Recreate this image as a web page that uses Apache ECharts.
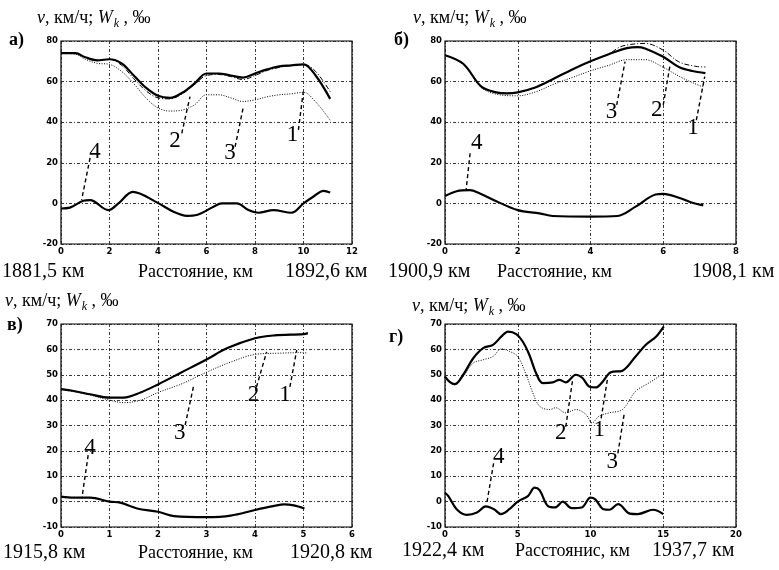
<!DOCTYPE html>
<html><head><meta charset="utf-8">
<script src="https://cdn.jsdelivr.net/npm/echarts@6/dist/echarts.min.js"></script>
<style>html,body{margin:0;padding:0;background:#fff}#c{width:779px;height:570px}</style>
</head><body><div id="c"></div>
<script>
// ---------- DATA ----------
// Panel а) 1881,5 – 1892,6 км
const a1 = [[0,74],[0.6,74],[1,72],[1.5,70.5],[2,71],[2.5,68],[3,61.5],[3.5,55.5],[4,52],[4.5,51.5],[5,54],[5.5,58.5],[6,63],[6.5,63.5],[7,62.5],[7.5,61],[8,63],[8.5,65.5],[9,67],[9.5,68],[10,68.5],[10.5,65],[11.1,55]];
const a2 = [[0,74],[0.6,74],[1,72],[1.5,70.5],[2,71],[2.5,69],[3,63],[3.5,57],[4,53],[4.5,52],[5,54.5],[5.5,59],[6,64],[6.5,64],[7,63],[7.5,62],[8,64],[8.5,66],[9,67.5],[9.5,68],[10,68.5],[10.5,63],[11.1,51.5]];
const a3 = [[0,74],[0.6,73.5],[1,71],[1.5,69],[2,68.5],[2.5,65],[3,59],[3.5,52],[4,47],[4.5,45.5],[5,46],[5.5,48.5],[6,53.5],[6.5,53.5],[7,52],[7.5,50.2],[8,51],[8.5,52.5],[9,53.5],[9.5,54],[10,54.7],[10.5,50],[11.1,41]];
const a4 = [[0,-2.5],[0.37,-2.1],[0.92,1.3],[1.2,1.6],[1.95,-3.3],[2.37,0],[2.96,5.7],[3.95,0.5],[4.64,-4.1],[5.19,-6.1],[5.6,-5.7],[6.29,-1.6],[6.63,0],[7.25,0],[7.73,-3.3],[8.14,-4.6],[8.76,-3.3],[9.5,-4.6],[10,0],[10.4,3.3],[10.83,6.2],[11.1,5.4]];
// Panel б) 1900,9 – 1908,1 км
const b1 = [[0,73],[0.5,68.8],[1,57.5],[1.41,54.7],[1.7,54.2],[2,54.7],[2.5,57.2],[3,61.5],[3.5,66],[4,70],[4.5,73.5],[4.8,77],[5.1,78.3],[5.5,78.8],[6,75.5],[6.43,69.7],[6.9,67.5],[7.16,67.2]];
const b2 = [[0,73],[0.5,68.8],[1,57.5],[1.41,54.7],[1.7,54.2],[2,54.7],[2.5,57.2],[3,61.5],[3.5,66],[4,70],[4.5,73.5],[5,76.5],[5.3,77],[5.5,76.3],[6,72.2],[6.43,67.2],[6.8,65.2],[7.16,64.2]];
const b3 = [[0,73],[0.5,68.5],[1,57],[1.5,53.5],[2,53],[2.5,55],[3,58.8],[3.5,62],[4,65.3],[4.5,68],[5,70.8],[5.5,70.8],[6,67],[6.5,62],[7,58],[7.1,57.5]];
const b4 = [[0,3.6],[0.32,6],[0.68,6.5],[0.96,4.9],[1.41,1.1],[2,-3.3],[2.6,-4.9],[2.96,-6.2],[4,-6.5],[4.74,-6.2],[5.24,-1.6],[5.79,4.4],[6,4.7],[6.43,2.8],[6.8,0.3],[7.1,-1]];
// Panel в) 1915,8 – 1920,8 км
const c1 = [[0,44.3],[0.26,43.6],[0.6,42.3],[1,41],[1.29,41],[1.64,43],[2,46.2],[2.47,50.8],[3,56],[3.43,60.5],[4,64.4],[4.4,65.5],[5,66],[5.09,66.4]];
const c2 = [[0,44.3],[0.26,43.6],[0.6,42.3],[1,41],[1.29,41],[1.64,43],[2,46.2],[2.47,50.8],[3,56],[3.43,60.5],[4,64.4],[4.4,65.5],[5,66],[5.09,66.4]];
const c3 = [[0,44.3],[0.6,42],[1,40],[1.3,39],[1.64,40],[2,43],[2.5,46.5],[3,51],[3.5,55],[4,58],[4.5,58.5],[5,58.7],[5.09,58.5]];
const c4 = [[0,2],[0.26,1.6],[0.6,1.6],[1,0],[1.22,-0.4],[1.57,-2.7],[2,-4],[2.33,-5.7],[3,-6.1],[3.5,-5.5],[4,-3.3],[4.4,-1.7],[4.6,-1.1],[4.8,-1.5],[5.02,-2.7]];
// Panel г) 1922,4 – 1937,7 км
const d1 = [[0,49.3],[0.34,47.1],[0.68,46.3],[1.25,50],[1.94,56.5],[2.62,60.5],[3.3,61.8],[3.87,65],[4.33,67],[4.9,66],[5.35,63],[5.8,57.8],[6.26,50.6],[6.72,46.7],[7.4,47],[7.86,48],[8.3,47],[9,50],[9.45,48.7],[9.9,45.4],[10.36,45],[10.8,47],[11.4,51],[12.2,51.6],[13.1,57.2],[13.8,61.8],[14.5,65],[15.03,69]];
const d2 = [[0,49.3],[0.34,47.1],[0.68,46.3],[1.25,50],[1.94,56.5],[2.62,60.5],[3.3,61.8],[3.87,65],[4.33,67],[4.9,66],[5.35,63],[5.8,57.8],[6.26,50.6],[6.72,46.7],[7.4,47],[7.86,48],[8.3,47],[9,50],[9.45,48.7],[9.9,45.4],[10.36,45],[10.8,47],[11.4,51],[12.2,51.6],[13.1,57.2],[13.8,61.8],[14.5,65],[15.03,69]];
const d3 = [[0,49.3],[0.68,46],[1.25,49.3],[1.94,54.6],[2.62,55.9],[3.3,57.2],[3.87,60.2],[4.44,59.2],[5,57.2],[5.58,50],[6.04,42.8],[6.5,37.6],[7.2,36.3],[7.6,37],[8.3,35],[9,36.3],[9.7,34.3],[10.1,31],[10.6,33.7],[11.3,35],[12.2,36.3],[13.1,43.5],[14,46.7],[14.9,50],[15.03,50.2]];
const d4 = [[0,3.5],[0.23,2.2],[0.8,-3],[1.5,-5.2],[2.2,-4.3],[2.8,-1.9],[3.37,-3],[3.84,-4.9],[4.42,-3],[5,0],[5.7,2.2],[6.16,5.5],[6.5,4.5],[7.1,-1.9],[7.56,-2.3],[8.1,0],[8.7,-2.6],[9.4,-2.3],[10,1.6],[10.33,0.9],[10.9,-3],[11.3,-3.2],[11.9,-1],[12.7,-4.7],[13.25,-4.9],[14.3,-3.2],[15,-4.9]];

// Axis ranges / ticks
const xMax = [12, 8, 6, 20];
const xStep = [2, 2, 1, 5];
const yMin = [-20, -20, -10, -10];
const yMax = [80, 80, 70, 70];
const yStep = [20, 20, 10, 10];

// Annotation numbers [panel, label, x, y] and leader lines [panel, x1, y1, x2, y2]
const numLabels = [
  [0,'4',1.4,25.3],[0,'2',4.7,31],[0,'3',6.97,24.8],[0,'1',9.55,33.5],
  [1,'4',0.87,29.6],[1,'3',4.58,45.2],[1,'2',5.82,46],[1,'1',6.82,37],
  [2,'4',0.6,21],[2,'3',2.45,26.9],[2,'2',3.97,42],[2,'1',4.62,42],
  [3,'4',3.69,17.7],[3,'2',7.96,26.9],[3,'1',10.6,28.2],[3,'3',11.5,15.7]
];
const leaders = [
  [0,1.2,22.4,0.85,1.7],[0,4.98,34.5,5.32,52.6],[0,7.18,27.9,7.52,47.6],[0,9.79,36.2,9.99,55],
  [1,0.69,24.7,0.58,6.6],[1,4.72,48.5,4.95,69.8],[1,6.0,48.5,6.18,67.4],[1,6.91,41,7.14,62.5],
  [2,0.56,18.3,0.43,1.3],[2,2.56,30.2,2.73,45.2],[2,4.03,45.2,4.24,59],[2,4.72,45.2,4.86,59.7],
  [3,3.34,15.1,2.89,0],[3,8.3,29.5,8.77,47.9],[3,10.73,32.8,11.19,49.2],[3,11.88,19,12.34,35.4]
];

// Texts
const panelLetters = ['а)','б)','в)','г)'];
const kmStart = ['1881,5 км','1900,9 км','1915,8 км','1922,4 км'];
const kmEnd = ['1892,6 км','1908,1 км','1920,8 км','1937,7 км'];
const distLabel = ['Расстояние, км','Расстояние, км','Расстояние, км','Расстоянис, км'];

// ---------- LAYOUT ----------
const grids = [
  {left:61, top:41, width:291, height:203},
  {left:445, top:41, width:291, height:203},
  {left:61, top:324, width:291, height:203},
  {left:445, top:324, width:291, height:203}
];
const headerPos = [[37,9],[413,9],[5,292],[412,297]];
const letterPos = [[9,31],[394,31],[7,316],[389,328]];
const bottomPos = [
  [[2,262],[138,263],[285,262]],
  [[388,262],[497,263],[692,262]],
  [[3,543],[138,544],[290,543]],
  [[402,541],[515,542],[652,541]]
];

const SERIF = '"Liberation Serif","DejaVu Serif",serif';
const gridLine = {color:'#222', width:0.9, type:[3,2,1,2]};

const option = {
  animation:false,
  backgroundColor:'#fff',
  grid: grids.map(g => Object.assign({show:true, borderColor:'#000', borderWidth:1.2, backgroundColor:'transparent'}, g)),
  xAxis: grids.map((g,i) => ({
    type:'value', gridIndex:i, min:0, max:xMax[i], interval:xStep[i],
    axisLine:{show:false}, axisTick:{show:false},
    splitLine:{show:true, lineStyle:gridLine},
    axisLabel:{fontSize:8.5, fontWeight:'bold', color:'#000', margin:3, fontFamily:'DejaVu Sans'}
  })),
  yAxis: grids.map((g,i) => ({
    type:'value', gridIndex:i, min:yMin[i], max:yMax[i], interval:yStep[i],
    axisLine:{show:false}, axisTick:{show:false},
    splitLine:{show:true, lineStyle:gridLine},
    axisLabel:{fontSize:8.5, fontWeight:'bold', color:'#000', margin:3, fontFamily:'DejaVu Sans'}
  })),
  title: headerPos.map(p => ({
    left:p[0], top:p[1], padding:0,
    text:'{i|v}{n|, км/ч; }{i|W}{s|k}{n| , ‰}',
    textStyle:{
      fontFamily:SERIF, fontSize:18, fontWeight:'normal', color:'#000',
      rich:{
        i:{fontFamily:SERIF, fontSize:18, fontStyle:'italic', color:'#000', lineHeight:21, verticalAlign:'top'},
        n:{fontFamily:SERIF, fontSize:18, color:'#000', lineHeight:21, verticalAlign:'top'},
        s:{fontFamily:SERIF, fontSize:12, fontStyle:'italic', color:'#000', lineHeight:12, padding:[9,0,0,1], verticalAlign:'top'}
      }
    }
  })),
  graphic: [],
  series: []
};

panelLetters.forEach((t,i) => {
  option.graphic.push({type:'text', left:letterPos[i][0], top:letterPos[i][1], style:{text:t, font:'bold 18px '+SERIF, fill:'#000'}});
  const texts = [kmStart[i], distLabel[i], kmEnd[i]];
  texts.forEach((s,j) => option.graphic.push({type:'text', left:bottomPos[i][j][0], top:bottomPos[i][j][1],
    style:{text:s, font:(j===1 ? '18px ' : '20px ')+SERIF, fill:'#000'}}));
});

const panels = [[a1,a2,a3,a4],[b1,b2,b3,b4],[c1,c2,c3,c4],[d1,d2,d3,d4]];
const styles = [
  {width:1, type:[5,2,1,2]},
  {width:2.2, type:'solid'},
  {width:1, type:[1,1.5]},
  {width:2.2, type:'solid'}
];
panels.forEach((arr,i) => {
  arr.forEach((data,k) => {
    option.series.push({
      type:'line', name:String(k+1), xAxisIndex:i, yAxisIndex:i, data:data,
      showSymbol:false, smooth:0.35, z: k===0 ? 4 : 3,
      lineStyle:Object.assign({color:'#000'}, styles[k])
    });
  });
  option.series.push({
    type:'lines', coordinateSystem:'cartesian2d', xAxisIndex:i, yAxisIndex:i,
    data: leaders.filter(l => l[0]===i).map(l => ({coords:[[l[1],l[2]],[l[3],l[4]]]})),
    lineStyle:{color:'#000', width:1.4, type:[4,3], opacity:1}, silent:true
  });
  option.series.push({
    type:'scatter', xAxisIndex:i, yAxisIndex:i, symbolSize:0, silent:true, z:6,
    itemStyle:{color:'#000', opacity:1},
    data: numLabels.filter(l => l[0]===i).map(l => ({value:[l[2],l[3]], name:l[1]})),
    label:{show:true, position:'inside', formatter:p => p.name, fontFamily:SERIF, fontSize:23, color:'#000',
      opacity:1, textBorderWidth:0}
  });
});

const chart = echarts.init(document.getElementById('c'), null, {renderer:'canvas'});
chart.setOption(option);
</script></body></html>
